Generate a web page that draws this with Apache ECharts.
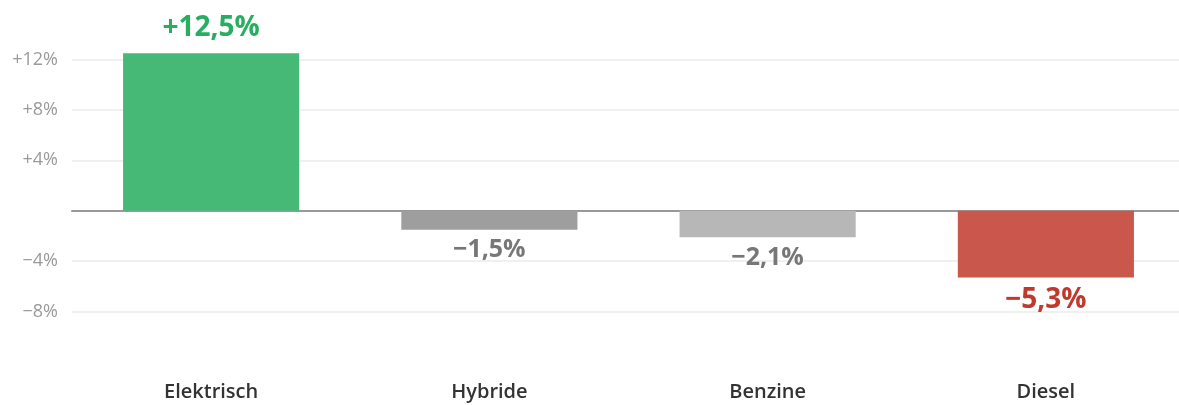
<!DOCTYPE html>
<html><head><meta charset="utf-8">
<script src="https://cdn.jsdelivr.net/npm/echarts@6/dist/echarts.min.js"></script>
<style>html,body{margin:0;padding:0;background:#fff}#c{width:1179px;height:405px}</style>
</head><body><div id="c"></div>
<script>
const categories = ['Elektrisch', 'Hybride', 'Benzine', 'Diesel'];
const values = [12.5, -1.5, -2.1, -5.3];
const valueLabels = ['+12,5%', '\u22121,5%', '\u22122,1%', '\u22125,3%'];
const barColors = ['#47b977', '#9e9e9e', '#b7b7b7', '#c9574b'];
const labelColors = ['#27ae60', '#777777', '#777777', '#c0392b'];
const labelSizes = [28, 25, 25, 28];
const tickLabels = {'12': '+12%', '8': '+8%', '4': '+4%', '-4': '\u22124%', '-8': '\u22128%'};

const font = '"Open Sans", "Noto Sans", sans-serif';
const chart = echarts.init(document.getElementById('c'), null, {renderer: 'canvas'});
chart.setOption({
  animation: false,
  grid: {left: 72, top: 9, width: 1113, height: 353, containLabel: false, outerBoundsMode: 'none'},
  xAxis: {
    type: 'category', data: categories,
    axisTick: {show: false},
    axisLine: {onZero: true, lineStyle: {color: '#999', width: 2}},
    axisLabel: {color: '#333', fontSize: 20, fontWeight: 600, fontFamily: font, margin: 20},
    position: 'bottom'
  },
  yAxis: {
    type: 'value', min: -12, max: 16, interval: 4,
    axisLine: {show: false}, axisTick: {show: false},
    splitLine: {lineStyle: {color: '#f0f0f0', width: 2}, showMinLine: false, showMaxLine: false},
    axisLabel: {color: '#9a9a9a', fontSize: 18, fontFamily: font, margin: 14,
      formatter: v => tickLabels[String(v)] || ''}
  },
  series: [{
    type: 'bar', barWidth: '63.3%',
    data: values.map((v, i) => ({
      value: v,
      itemStyle: {color: barColors[i]},
      label: {
        show: true, position: v >= 0 ? 'top' : 'bottom', distance: v >= 0 ? 11 : 8,
        formatter: valueLabels[i], color: labelColors[i], fontSize: labelSizes[i],
        fontWeight: 'bold', fontFamily: font
      }
    }))
  }]
});
</script></body></html>
